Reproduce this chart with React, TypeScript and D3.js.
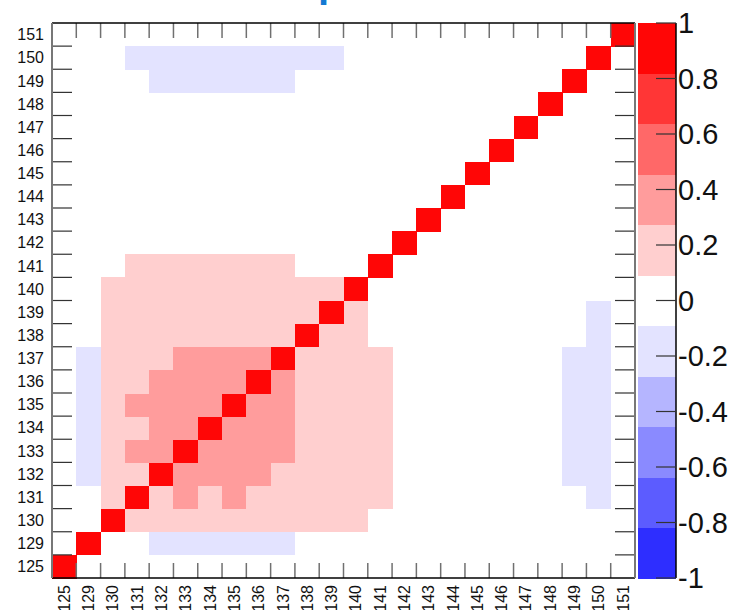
import React from "react";
import * as d3 from "d3";

// Channel labels, bottom-to-top on the y axis and left-to-right on the x axis
const channels: string[] = [
  "125", "129", "130", "131", "132", "133", "134", "135", "136", "137", "138", "139",
  "140", "141", "142", "143", "144", "145", "146", "147", "148", "149", "150", "151",
];

// Correlation coefficients, one row per channel (row index = y channel, column index = x channel)
const row125 = [1, 0, 0, 0, 0, 0, 0, 0, 0, 0, 0, 0, 0, 0, 0, 0, 0, 0, 0, 0, 0, 0, 0, 0];
const row129 = [0, 1, 0, 0, -0.15, -0.15, -0.15, -0.15, -0.15, -0.15, 0, 0, 0, 0, 0, 0, 0, 0, 0, 0, 0, 0, 0, 0];
const row130 = [0, 0, 1, 0.2, 0.2, 0.2, 0.2, 0.2, 0.2, 0.2, 0.2, 0.2, 0.2, 0, 0, 0, 0, 0, 0, 0, 0, 0, 0, 0];
const row131 = [0, 0, 0.2, 1, 0.2, 0.33, 0.2, 0.33, 0.2, 0.2, 0.2, 0.2, 0.2, 0.2, 0, 0, 0, 0, 0, 0, 0, 0, -0.15, 0];
const row132 = [0, -0.15, 0.2, 0.2, 1, 0.35, 0.35, 0.35, 0.35, 0.2, 0.2, 0.2, 0.2, 0.2, 0, 0, 0, 0, 0, 0, 0, -0.15, -0.15, 0];
const row133 = [0, -0.15, 0.2, 0.35, 0.35, 1, 0.35, 0.35, 0.35, 0.35, 0.2, 0.2, 0.2, 0.2, 0, 0, 0, 0, 0, 0, 0, -0.15, -0.15, 0];
const row134 = [0, -0.15, 0.2, 0.2, 0.35, 0.35, 1, 0.35, 0.35, 0.35, 0.2, 0.2, 0.2, 0.2, 0, 0, 0, 0, 0, 0, 0, -0.15, -0.15, 0];
const row135 = [0, -0.15, 0.2, 0.35, 0.35, 0.35, 0.35, 1, 0.35, 0.35, 0.2, 0.2, 0.2, 0.2, 0, 0, 0, 0, 0, 0, 0, -0.15, -0.15, 0];
const row136 = [0, -0.15, 0.2, 0.2, 0.35, 0.35, 0.35, 0.35, 1, 0.35, 0.2, 0.2, 0.2, 0.2, 0, 0, 0, 0, 0, 0, 0, -0.15, -0.15, 0];
const row137 = [0, -0.15, 0.2, 0.2, 0.2, 0.35, 0.35, 0.35, 0.35, 1, 0.2, 0.2, 0.2, 0.2, 0, 0, 0, 0, 0, 0, 0, -0.15, -0.15, 0];
const row138 = [0, 0, 0.2, 0.2, 0.2, 0.2, 0.2, 0.2, 0.2, 0.2, 1, 0.2, 0.2, 0, 0, 0, 0, 0, 0, 0, 0, 0, -0.15, 0];
const row139 = [0, 0, 0.2, 0.2, 0.2, 0.2, 0.2, 0.2, 0.2, 0.2, 0.2, 1, 0.2, 0, 0, 0, 0, 0, 0, 0, 0, 0, -0.15, 0];
const row140 = [0, 0, 0.2, 0.2, 0.2, 0.2, 0.2, 0.2, 0.2, 0.2, 0.2, 0.2, 1, 0, 0, 0, 0, 0, 0, 0, 0, 0, 0, 0];
const row141 = [0, 0, 0, 0.2, 0.2, 0.2, 0.2, 0.2, 0.2, 0.2, 0, 0, 0, 1, 0, 0, 0, 0, 0, 0, 0, 0, 0, 0];
const row142 = [0, 0, 0, 0, 0, 0, 0, 0, 0, 0, 0, 0, 0, 0, 1, 0, 0, 0, 0, 0, 0, 0, 0, 0];
const row143 = [0, 0, 0, 0, 0, 0, 0, 0, 0, 0, 0, 0, 0, 0, 0, 1, 0, 0, 0, 0, 0, 0, 0, 0];
const row144 = [0, 0, 0, 0, 0, 0, 0, 0, 0, 0, 0, 0, 0, 0, 0, 0, 1, 0, 0, 0, 0, 0, 0, 0];
const row145 = [0, 0, 0, 0, 0, 0, 0, 0, 0, 0, 0, 0, 0, 0, 0, 0, 0, 1, 0, 0, 0, 0, 0, 0];
const row146 = [0, 0, 0, 0, 0, 0, 0, 0, 0, 0, 0, 0, 0, 0, 0, 0, 0, 0, 1, 0, 0, 0, 0, 0];
const row147 = [0, 0, 0, 0, 0, 0, 0, 0, 0, 0, 0, 0, 0, 0, 0, 0, 0, 0, 0, 1, 0, 0, 0, 0];
const row148 = [0, 0, 0, 0, 0, 0, 0, 0, 0, 0, 0, 0, 0, 0, 0, 0, 0, 0, 0, 0, 1, 0, 0, 0];
const row149 = [0, 0, 0, 0, -0.15, -0.15, -0.15, -0.15, -0.15, -0.15, 0, 0, 0, 0, 0, 0, 0, 0, 0, 0, 0, 1, 0, 0];
const row150 = [0, 0, 0, -0.15, -0.15, -0.15, -0.15, -0.15, -0.15, -0.15, -0.15, -0.15, 0, 0, 0, 0, 0, 0, 0, 0, 0, 0, 1, 0];
const row151 = [0, 0, 0, 0, 0, 0, 0, 0, 0, 0, 0, 0, 0, 0, 0, 0, 0, 0, 0, 0, 0, 0, 0, 1];

const matrix: number[][] = [
  row125, row129, row130, row131, row132, row133, row134, row135, row136, row137, row138, row139,
  row140, row141, row142, row143, row144, row145, row146, row147, row148, row149, row150, row151,
];

// 11-level diverging palette, from -1 (blue) to +1 (red)
const paletteColors: string[] = [
  "#2e2eff", "#5c5cff", "#8a8aff", "#b5b5ff", "#e3e3ff",
  "#ffffff",
  "#ffcfcf", "#ff9c9c", "#ff6868", "#ff3636", "#ff0606",
];

const paletteTicks: number[] = [-1, -0.8, -0.6, -0.4, -0.2, 0, 0.2, 0.4, 0.6, 0.8, 1];

const W = 737;
const H = 610;
const FONT = "'Liberation Sans', Arial, Helvetica, sans-serif";

export default function App() {
  const left = 52;
  const right = 635;
  const top = 23;
  const bottom = 578;
  const palLeft = 638;
  const palRight = 676;

  const x = d3.scaleBand<string>().domain(channels).range([left, right]);
  const y = d3.scaleBand<string>().domain(channels).range([bottom, top]);
  const color = d3.scaleQuantize<string>().domain([-1, 1]).range(paletteColors);
  const pal = d3.scaleLinear().domain([-1, 1]).range([bottom, top]);

  const cells: { cx: string; cy: string; v: number }[] = [];
  matrix.forEach((row, ri) => {
    row.forEach((v, ci) => {
      if (v !== 0) cells.push({ cx: channels[ci], cy: channels[ri], v });
    });
  });

  const nLevels = paletteColors.length;
  const levelEdges = d3.range(nLevels + 1).map((k) => -1 + (2 * k) / nLevels);

  const fmt = (d: number) => String(+d.toFixed(1));

  // inner cell boundaries used for tick marks
  const boundaries = channels.slice(1);

  return (
    <svg
      width={W}
      height={H}
      style={{ position: "absolute", left: 0, top: 0, background: "#fff" }}
      fontFamily={FONT}
    >
      <rect x={0} y={0} width={W} height={H} fill="#fff" />

      {/* title (mostly above the visible area) */}
      <text x={318} y={-3} fontSize={40} fontWeight="bold" fill="#1479d2">
        p
      </text>

      {/* cells */}
      <g shapeRendering="crispEdges">
        {cells.map((c, i) => (
          <rect
            key={i}
            x={x(c.cx)}
            y={y(c.cy)}
            width={x.bandwidth() + 0.5}
            height={y.bandwidth() + 0.5}
            fill={color(c.v)}
          />
        ))}
      </g>

      {/* x ticks, top and bottom, at cell boundaries */}
      <g stroke="#707070" strokeWidth={1.5}>
        {boundaries.map((c) => {
          const px = x(c)!;
          return (
            <g key={c}>
              <line x1={px} x2={px} y1={bottom} y2={bottom - 15} />
              <line x1={px} x2={px} y1={top} y2={top + 15} />
            </g>
          );
        })}
      </g>

      {/* y ticks, left and right */}
      <g stroke="#333" strokeWidth={1.2}>
        {boundaries.map((c) => {
          const py = y(c)! + y.bandwidth();
          return (
            <g key={c}>
              <line x1={left} x2={left + 20} y1={py} y2={py} />
              <line x1={right} x2={right - 20} y1={py} y2={py} />
            </g>
          );
        })}
      </g>

      {/* frame */}
      <line x1={left} x2={right} y1={top} y2={top} stroke="#000" strokeWidth={1.5} />
      <line x1={left} x2={right} y1={bottom} y2={bottom} stroke="#000" strokeWidth={1.5} />
      <line x1={left} x2={left} y1={top} y2={bottom} stroke="#777" strokeWidth={2} />
      <line x1={right} x2={right} y1={top} y2={bottom} stroke="#777" strokeWidth={2} />

      {/* y labels */}
      <g fontSize={16} fill="#111" textAnchor="end">
        {channels.map((c) => (
          <text key={c} x={44} y={y(c)! + y.bandwidth() / 2} dy="0.36em">
            {c}
          </text>
        ))}
      </g>

      {/* x labels, vertical */}
      <g fontSize={16} fill="#111" textAnchor="end">
        {channels.map((c) => {
          const px = x(c)! + x.bandwidth() / 2;
          return (
            <text
              key={c}
              transform={`translate(${px},${bottom + 7}) rotate(-90)`}
              dy="0.36em"
            >
              {c}
            </text>
          );
        })}
      </g>

      {/* palette */}
      <g>
        <g shapeRendering="crispEdges">
          {paletteColors.map((col, k) => (
            <rect
              key={k}
              x={palLeft}
              y={pal(levelEdges[k + 1])}
              width={palRight - palLeft}
              height={pal(levelEdges[k]) - pal(levelEdges[k + 1]) + 0.5}
              fill={col}
            />
          ))}
        </g>
        <line x1={palRight} x2={palRight} y1={top} y2={bottom} stroke="#000" strokeWidth={1.5} />
        {paletteTicks.map((t) => (
          <g key={t}>
            <line
              x1={palRight - 20}
              x2={palRight}
              y1={pal(t)}
              y2={pal(t)}
              stroke="#333"
              strokeWidth={1.2}
            />
            <text x={678} y={pal(t)} dy="0.36em" fontSize={29} fill="#111">
              {fmt(t)}
            </text>
          </g>
        ))}
      </g>
    </svg>
  );
}
